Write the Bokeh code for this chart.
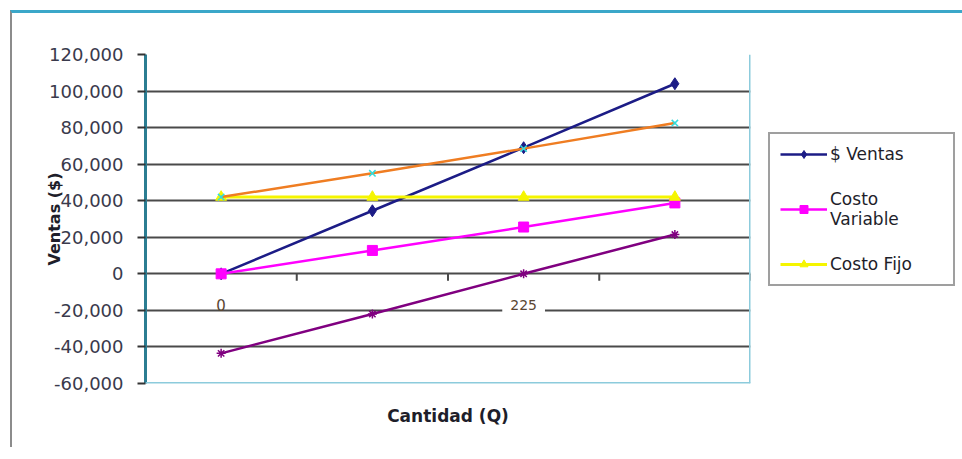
import math
from bokeh.plotting import figure
from bokeh.models import (Range1d, FixedTicker, NumeralTickFormatter, Legend, LegendItem,
                          Span, ColumnDataSource, LinearAxis, Grid)
from bokeh.core.properties import value
from bokeh.embed import file_html
from bokeh.resources import INLINE

# ---------------- data ----------------
x_labels = ["0", "", "225", ""]          # category tick labels (only two shown)
ventas = [0, 34500, 69000, 104000]
costo_variable = [0, 12800, 25600, 38800]
costo_fijo = [42000, 42000, 42000, 42000]
costo_total = [42000, 55000, 68500, 82500]
utilidad = [-43500, -22000, 0, 21500]
y_ticks = [-60000, -40000, -20000, 0, 20000, 40000, 60000, 80000, 100000, 120000]

n = len(x_labels)
xs = list(range(n))

FONT = "DejaVu Sans"
Y0, Y1 = y_ticks[0], y_ticks[-1]
FRAME_W, FRAME_H = 605, 329

p = figure(frame_width=FRAME_W, frame_height=FRAME_H,
           x_range=Range1d(-0.5, n - 0.5), y_range=Range1d(Y0, Y1),
           output_backend="svg", toolbar_location=None,
           min_border_left=133, min_border_top=41, min_border_bottom=64, min_border_right=204,
           x_axis_type=None, y_axis_type=None)
p.outline_line_color = None
p.background_fill_color = "white"
p.border_fill_color = "white"
p.styles = {"margin-top": "10px", "margin-left": "10px",
            "border-top": "3px solid #3ba7c9", "border-left": "2px solid #8c8c8c"}

# grid
p.add_layout(Grid(dimension=1, ticker=FixedTicker(ticks=y_ticks),
                  grid_line_color="#4a4a4a", grid_line_width=2))

# y axis
yax = LinearAxis(ticker=FixedTicker(ticks=y_ticks), formatter=NumeralTickFormatter(format="0,0"))
yax.major_tick_out = 8
yax.major_tick_in = 0
yax.minor_tick_line_color = None
yax.major_tick_line_color = "#333333"
yax.major_tick_line_width = 2
yax.axis_line_color = "#2b7d92"
yax.axis_line_width = 3
yax.major_label_standoff = 14
yax.major_label_text_font = FONT
yax.major_label_text_font_size = "18px"
yax.major_label_text_color = "#3a3a4c"
yax.axis_label = "Ventas ($)"
yax.axis_label_text_font = FONT
yax.axis_label_text_font_size = "16px"
yax.axis_label_text_font_style = "bold"
yax.axis_label_text_color = "#1e1e2a"
yax.axis_label_standoff = -18
p.add_layout(yax, "left")

# x axis (title only)
xax = LinearAxis(ticker=FixedTicker(ticks=[]))
xax.axis_line_color = None
xax.major_tick_line_color = None
xax.minor_tick_line_color = None
xax.axis_label = "Cantidad (Q)"
xax.axis_label_text_font = FONT
xax.axis_label_text_font_size = "17px"
xax.axis_label_text_font_style = "bold"
xax.axis_label_text_color = "#1e1e2a"
xax.axis_label_standoff = 22
p.add_layout(xax, "below")

# frame borders (right, bottom)
p.add_layout(Span(location=n - 0.5, dimension="height", line_color="#8ccbdc", line_width=3))
p.add_layout(Span(location=Y0, dimension="width", line_color="#8ccbdc", line_width=3))

# category axis at y = 0 : ticks at boundaries
tick_x = [i + 0.5 for i in range(n)]
tick_len = 7 * (Y1 - Y0) / FRAME_H
p.segment(x0=tick_x, y0=[0] * n, x1=tick_x, y1=[-tick_len] * n,
          line_color="#4a4a4a", line_width=2)

# series
NAVY, MAG, YEL, ORA, CYA, PUR = "#1c1c86", "#ff00ff", "#f5f500", "#ef7d22", "#33dddd", "#800080"
lv = p.line(xs, ventas, line_color=NAVY, line_width=2.5)
sv = p.scatter(xs, ventas, marker="diamond", size=12, color=NAVY)
lcv = p.line(xs, costo_variable, line_color=MAG, line_width=2.5)
scv = p.scatter(xs, costo_variable, marker="square", size=10, color=MAG)
lcf = p.line(xs, costo_fijo, line_color=YEL, line_width=3)
scf = p.scatter(xs, costo_fijo, marker="triangle", size=11, color=YEL)
lct = p.line(xs, costo_total, line_color=ORA, line_width=2.5)
sct = p.scatter(xs, costo_total, marker="x", size=9, line_color=CYA, line_width=1.5)
lu = p.line(xs, utilidad, line_color=PUR, line_width=2.5)
su = p.scatter(xs, utilidad, marker="asterisk", size=9, line_color=PUR, line_width=1.5)

# category labels
lab_x = [i for i, t in enumerate(x_labels) if t]
lab_t = [t for t in x_labels if t]
src0 = ColumnDataSource(dict(x=lab_x[:1], y=[0], t=lab_t[:1]))
src1 = ColumnDataSource(dict(x=lab_x[1:], y=[0] * len(lab_x[1:]), t=lab_t[1:]))
p.text(x="x", y="y", text="t", source=src0, y_offset=31, text_align="center",
       text_baseline="middle", text_font=value(FONT), text_font_size="15px", text_color="#5a4632")
p.text(x="x", y="y", text="t", source=src1, y_offset=31, text_align="center",
       text_baseline="middle", text_font=value(FONT), text_font_size="14px", text_color="#5a4632",
       background_fill_color="white", padding=8)

# legend
legend = Legend(items=[
    LegendItem(label="$ Ventas", renderers=[lv, sv]),
    LegendItem(label="Costo\nVariable", renderers=[lcv, scv]),
    LegendItem(label="Costo Fijo", renderers=[lcf, scf]),
], location=(18, 97))
legend.margin = 0
legend.padding = 10
legend.spacing = 25
legend.glyph_width = 47
legend.glyph_height = 20
legend.label_standoff = 3
legend.label_width = 113
legend.label_text_font = FONT
legend.label_text_font_size = "17px"
legend.label_text_line_height = 1.5
legend.label_text_color = "#1e1e2a"
legend.border_line_color = "#404040"
legend.border_line_width = 2
legend.background_fill_color = "white"
p.add_layout(legend, "right")

open("out.html", "w").write(file_html(p, INLINE))
